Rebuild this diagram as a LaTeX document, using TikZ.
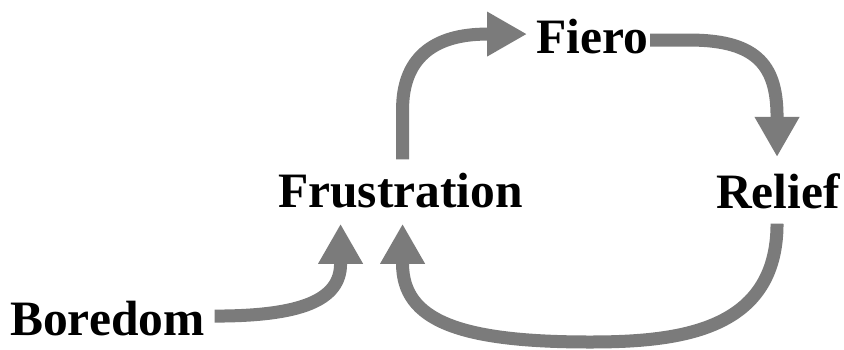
\documentclass[tikz,border=0pt]{standalone}
\usepackage{fontspec}
\setmainfont{Liberation Serif}
\usetikzlibrary{arrows.meta}
\definecolor{flowgray}{RGB}{123,123,123}
\begin{document}
\begin{tikzpicture}[x=1pt,y=-1pt,
  label/.style={font=\fontsize{49.5}{55}\selectfont\bfseries, inner sep=0pt, anchor=base west},
  flow/.style={draw=flowgray, line width=13pt,
    -{Triangle[width=42pt,length=40pt]}, fill=none}]
  \useasboundingbox (0,0) rectangle (844,349);

  \node[label] (bor) at (10,335)  {Boredom};
  \node[label] (fru) at (278,207) {Frustration};
  \node[label] (fie) at (536,53)  {Fiero};
  \node[label] (rel) at (716,208) {Relief};

  % end points of the connectors, set off from the labels
  \coordinate (fruup)  at ([shift={(2,-13)}]fru.north);
  \coordinate (fiein)  at ([shift={(-9,-2)}]fie.west);
  \coordinate (fieout) at ([shift={(2,4)}]fie.east);
  \coordinate (relin)  at ([shift={(-1,-16)}]rel.north);
  \coordinate (relout) at ([shift={(-1,15)}]rel.south);
  \coordinate (fruin)  at ([shift={(2,16)}]fru.south);
  \coordinate (fruin2) at ([shift={(-60,16)}]fru.south);
  \coordinate (borout) at ([shift={(10,-2)}]bor.east);

  % Frustration -> Fiero
  \draw[flow] (fruup) -- ++(0,-50)
    .. controls ++(0,-50) and ++(-55,0) .. ([shift={(-40,0)}]fiein) -- (fiein);

  % Fiero -> Relief
  \draw[flow] (fieout) -- ++(40,0)
    .. controls ++(70,0) and ++(0,-48) .. ([shift={(0,-40)}]relin) -- (relin);

  % Relief -> Frustration
  \draw[flow] (relout)
    .. controls ++(0,107) and ++(90,0) .. (590,342)
    .. controls ++(-130,0) and ++(0,57) .. ([shift={(0,40)}]fruin) -- (fruin);

  % Boredom -> Frustration
  \draw[flow] (borout)
    .. controls ++(85,0) and ++(0,37) .. ([shift={(0,40)}]fruin2) -- (fruin2);
\end{tikzpicture}
\end{document}
